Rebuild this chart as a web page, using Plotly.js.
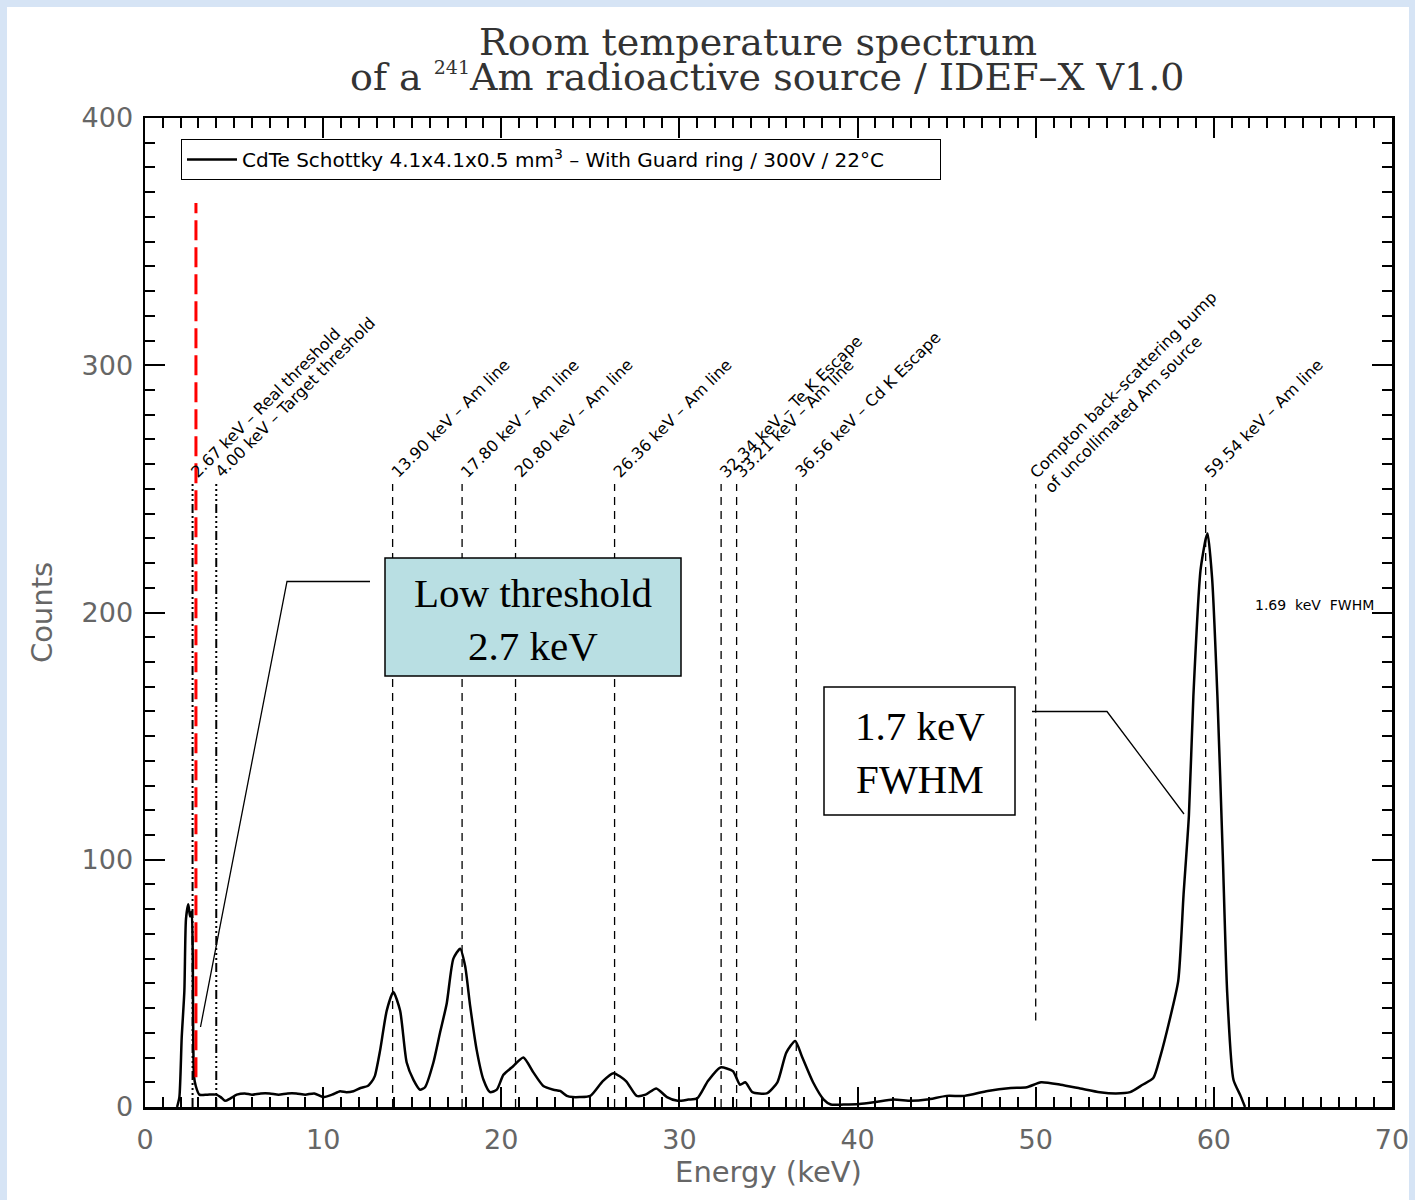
<!DOCTYPE html>
<html>
<head>
<meta charset="utf-8">
<script src="https://cdn.plot.ly/plotly-3.0.1.min.js"></script>
<style>html,body{margin:0;padding:0;background:#d6e4f5;}</style>
</head>
<body>
<div id="chart" style="width:1415px;height:1200px;"></div>
<script>
// ---- Spectrum data ----
const energy = [1.8, 1.93, 2.06, 2.21, 2.3, 2.43, 2.53, 2.62, 2.68, 2.75, 2.85, 3.05, 3.5, 4.0, 4.25, 4.49, 4.8, 5.15, 5.6, 6.0, 6.5, 7.0, 7.5, 8.0, 8.5, 9.0, 9.5, 10.0, 10.5, 10.95, 11.3, 11.7, 12.1, 12.5, 12.7, 12.9, 13.2, 13.57, 13.94, 14.32, 14.69, 15.07, 15.44, 15.72, 16.19, 16.56, 16.94, 17.31, 17.69, 17.97, 18.25, 18.62, 19.0, 19.37, 19.75, 20.12, 20.68, 21.24, 21.8, 22.36, 22.93, 23.3, 23.68, 24.0, 24.4, 25.0, 25.7, 26.3, 27.0, 27.6, 28.1, 28.7, 29.3, 29.9, 30.5, 31.0, 31.6, 32.3, 33.0, 33.4, 33.7, 34.1, 34.9, 35.5, 36.0, 36.5, 36.9, 37.5, 38.1, 38.5, 39.2, 40.1, 41.0, 42.0, 43.0, 43.9, 45.0, 46.0, 47.3, 48.6, 49.5, 50.3, 51.4, 52.5, 53.6, 54.5, 55.3, 56.0, 56.6, 57.0, 57.5, 58.0, 58.3, 58.6, 58.85, 59.25, 59.55, 59.65, 59.9, 60.2, 60.5, 60.75, 61.1, 61.5, 61.75];
const counts = [0, 4, 28, 47, 76, 82, 77, 79, 61, 12.5, 8.5, 5, 5, 5, 4, 2.5, 3.5, 5, 5.5, 5, 5.5, 5.5, 5, 5.5, 5.5, 5, 5.5, 4, 5, 6.4, 6, 6.4, 7.7, 8.5, 10, 12.5, 23, 39, 46.5, 39, 18, 11, 7, 8, 18, 30, 42, 60, 64, 57, 41, 23, 11, 6, 7, 13, 16.6, 20, 14, 8.5, 7, 6.5, 4.5, 4, 4, 4.5, 10.5, 13.7, 10.5, 4.5, 5, 7.5, 4, 2.5, 3, 3.5, 10.5, 16, 14.5, 9, 10, 6, 5.5, 10, 22, 26.7, 20, 10, 3, 1, 1, 1.2, 2, 3, 2.5, 3, 4.5, 4.5, 6.5, 7.7, 8, 10, 9, 7.5, 6, 5.5, 6, 9, 11.7, 20.6, 34.7, 51, 86, 118, 166, 217, 230, 232, 214, 166, 102, 46, 11, 4.5, 0];

// ---- Reference lines ----
const lineEnergy = [2.67, 4.00, 13.90, 17.80, 20.80, 26.36, 32.34, 33.21, 36.56, 50.0, 59.54];
const lineLabel = [
  "2.67 keV – Real threshold",
  "4.00 keV – Target threshold",
  "13.90 keV – Am line",
  "17.80 keV – Am line",
  "20.80 keV – Am line",
  "26.36 keV – Am line",
  "32.34 keV – Te K Escape",
  "33.21 keV – Am line",
  "36.56 keV – Cd K Escape",
  "Compton back–scattering bump<br>of uncollimated Am source",
  "59.54 keV – Am line"
];
const lineKind = ["threshold", "threshold", "am", "am", "am", "am", "am", "am", "am", "compton", "am"];
const lineTop = 252;
const comptonBottom = 35;
const realThresholdRed = 2.86;

const xTicks = [0, 10, 20, 30, 40, 50, 60, 70];
const yTicks = [0, 100, 200, 300, 400];

const titleLine1 = 'Room temperature spectrum';
const titleLine2 = 'of a <sup><span style="font-size:19px">241</span></sup>Am radioactive source / IDEF–X V1.0';
const legendName = 'CdTe Schottky 4.1x4.1x0.5 mm<sup>3</sup> – With Guard ring / 300V / 22°C';

// pixel -> data helpers for decorations (plot area 145..1392 x 118..1107)
const PX0 = 145, PX1 = 1392, PY0 = 1107, PY1 = 118;
function px2x(p) { return (p - PX0) / (PX1 - PX0) * 70; }
function px2y(p) { return (PY0 - p) / (PY0 - PY1) * 400; }
function px2px(p) { return (p - PX0) / (PX1 - PX0); }
function py2py(p) { return (PY0 - p) / (PY0 - PY1); }

const shapes = [];
shapes.push({type: 'rect', xref: 'paper', yref: 'paper', layer: 'below',
  x0: px2px(7), x1: px2px(1409), y0: py2py(1200), y1: py2py(7),
  fillcolor: 'white', line: {width: 0}});

const annotations = [];
lineEnergy.forEach((e, i) => {
  const kind = lineKind[i];
  let dash = '8px,6px', width = 1.3, y0 = 0;
  if (kind === 'threshold') { dash = '9px,3px,2px,3px,2px,3px,2px,3px'; width = 2; }
  if (kind === 'compton') { y0 = comptonBottom; }
  shapes.push({type: 'line', xref: 'x', yref: 'y', x0: e, x1: e, y0: y0, y1: lineTop,
    line: {color: 'black', width: width, dash: dash}});
  annotations.push({x: e, y: lineTop, xref: 'x', yref: 'y', text: lineLabel[i],
    showarrow: false, textangle: -45, xanchor: 'left', yanchor: 'bottom',
    align: 'left', xshift: kind === 'compton' ? -12 : -8, yshift: kind === 'compton' ? -16 : 0,
    font: {family: 'DejaVu Sans', size: 16, color: 'black'}});
});
shapes.push({type: 'line', xref: 'x', yref: 'y', x0: realThresholdRed, x1: realThresholdRed,
  y0: 12, y1: px2y(203), line: {color: '#ff0000', width: 3, dash: '20px,7px'}});

// callout box 1
shapes.push({type: 'rect', xref: 'x', yref: 'y', x0: px2x(385), x1: px2x(681), y0: px2y(676), y1: px2y(558),
  fillcolor: '#b9dfe3', line: {color: 'black', width: 1.5}});
shapes.push({type: 'path', xref: 'x', yref: 'y',
  path: `M ${px2x(370)} ${px2y(581.5)} L ${px2x(287)} ${px2y(581.5)} L ${px2x(200.5)} ${px2y(1027)}`,
  line: {color: 'black', width: 1.3}});
annotations.push({x: px2x(533), y: px2y(619), xref: 'x', yref: 'y', showarrow: false,
  text: 'Low threshold<br>2.7 keV', font: {family: 'Liberation Serif', size: 41, color: 'black'}});

// callout box 2
shapes.push({type: 'rect', xref: 'x', yref: 'y', x0: px2x(824), x1: px2x(1015), y0: px2y(815), y1: px2y(687),
  fillcolor: 'white', line: {color: 'black', width: 1.5}});
shapes.push({type: 'path', xref: 'x', yref: 'y',
  path: `M ${px2x(1032)} ${px2y(711.5)} L ${px2x(1107)} ${px2y(711.5)} L ${px2x(1184)} ${px2y(814)}`,
  line: {color: 'black', width: 1.3}});
annotations.push({x: px2x(920), y: px2y(752), xref: 'x', yref: 'y', showarrow: false,
  text: '1.7 keV<br>FWHM', font: {family: 'Liberation Serif', size: 41, color: 'black'}});

annotations.push({x: px2x(1376), y: px2y(605), xref: 'x', yref: 'y', showarrow: false,
  xanchor: 'right', text: '1.69  keV  FWHM', font: {family: 'DejaVu Sans', size: 14, color: 'black'}});

// second title line
annotations.push({x: px2px(767), y: py2py(77), xref: 'paper', yref: 'paper', showarrow: false,
  xanchor: 'center', yanchor: 'middle', text: titleLine2,
  font: {family: 'DejaVu Serif', size: 38, color: '#333'}});

const trace = {
  x: energy, y: counts, type: 'scatter', mode: 'lines',
  name: legendName + '&nbsp;&nbsp;&nbsp;&nbsp;&nbsp;&nbsp;&nbsp;&nbsp;',
  line: {color: 'black', width: 2.5, shape: 'spline', smoothing: 0.6},
  showlegend: true, hoverinfo: 'x+y'
};

const axisCommon = {
  showline: true, linecolor: 'black', linewidth: 2.5, mirror: 'allticks',
  ticks: 'inside', ticklen: 20, tickwidth: 2, tickcolor: 'black',
  showgrid: false, zeroline: false,
  tickfont: {family: 'DejaVu Sans', size: 27, color: '#666'}
};

const layout = {
  width: 1415, height: 1200,
  paper_bgcolor: '#d6e4f5', plot_bgcolor: 'white',
  margin: {l: 145, r: 23, t: 118, b: 93},
  title: {
    text: titleLine1,
    font: {family: 'DejaVu Serif', size: 38, color: '#333'},
    x: px2px(758), xref: 'paper', xanchor: 'center',
    y: 1 - 42 / 1200, yref: 'container', yanchor: 'middle'
  },
  xaxis: Object.assign({}, axisCommon, {
    range: [0, 70], tickvals: xTicks, ticktext: xTicks.map(String),
    ticklabelstandoff: 7,
    minor: {dtick: 1, ticks: 'inside', ticklen: 10, tickwidth: 2, tickcolor: 'black'},
    title: {text: 'Energy (keV)', font: {family: 'DejaVu Sans', size: 29, color: '#666'}, standoff: 8}
  }),
  yaxis: Object.assign({}, axisCommon, {
    range: [0, 400], tickvals: yTicks, ticktext: yTicks.map(String),
    ticklabelstandoff: 4,
    minor: {dtick: 10, ticks: 'inside', ticklen: 10, tickwidth: 2, tickcolor: 'black'},
    title: {text: 'Counts', font: {family: 'DejaVu Sans', size: 29, color: '#666'}, standoff: 21}
  }),
  showlegend: true,
  legend: {
    x: px2px(181), y: py2py(139), xanchor: 'left', yanchor: 'top',
    bordercolor: 'black', borderwidth: 1, bgcolor: 'white',
    font: {family: 'DejaVu Sans', size: 20, color: 'black'},
    itemwidth: 50, tracegroupgap: 0
  },
  shapes: shapes,
  annotations: annotations
};

Plotly.newPlot('chart', [trace], layout, {displayModeBar: false, staticPlot: true});
</script>
</body>
</html>
